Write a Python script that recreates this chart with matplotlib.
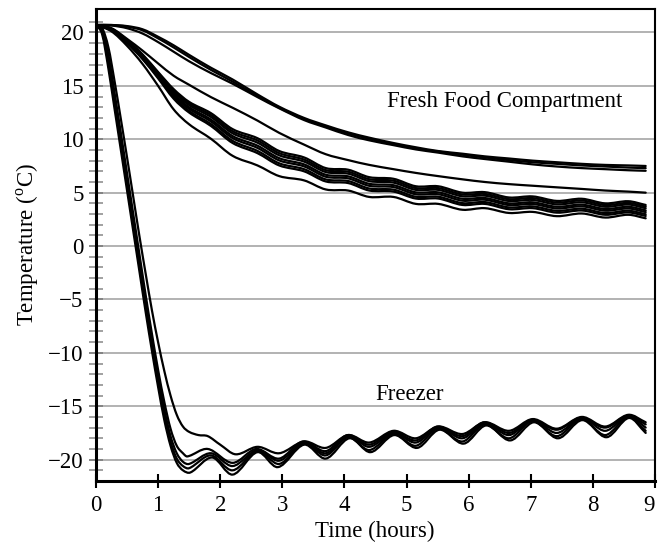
import numpy as np
import matplotlib
matplotlib.use("Agg")
import matplotlib.pyplot as plt
from matplotlib.path import Path
from matplotlib.patches import PathPatch

plt.rcParams['font.family'] = ['Liberation Serif', 'DejaVu Serif']
plt.rcParams['mathtext.fontset'] = 'custom'
plt.rcParams['mathtext.rm'] = 'Liberation Serif'

# ---------------- data ----------------
# Fresh food compartment: common time knots (hours)
t_fresh = [0, 0.25, 0.5, 0.75, 1.0, 1.25, 1.5, 1.85, 2.2, 2.6, 2.95, 3.35, 3.7,
           4.06, 4.4, 4.79, 5.15, 5.51, 5.9, 6.26, 6.65, 7.03, 7.42, 7.82, 8.2, 8.57, 8.85]

fresh_top1 = [20.7, 20.7, 20.6, 20.3, 19.6, 18.8, 17.9, 16.7, 15.6, 14.2, 13.05, 12.0, 11.3,
              10.65, 10.15, 9.65, 9.25, 8.9, 8.65, 8.4, 8.2, 8.0, 7.85, 7.7, 7.6, 7.55, 7.5]
fresh_top2 = [20.7, 20.7, 20.55, 20.2, 19.45, 18.6, 17.7, 16.5, 15.4, 14.05, 12.95, 11.9, 11.2,
              10.55, 10.05, 9.55, 9.15, 8.85, 8.55, 8.3, 8.05, 7.85, 7.7, 7.55, 7.45, 7.35, 7.3]
fresh_top3 = [20.7, 20.65, 20.4, 19.9, 19.1, 18.2, 17.3, 16.2, 15.2, 13.95, 12.9, 11.8, 11.1,
              10.4, 9.9, 9.45, 9.05, 8.75, 8.4, 8.15, 7.9, 7.65, 7.45, 7.3, 7.2, 7.1, 7.05]
fresh_mid = [20.7, 20.4, 19.4, 18.3, 17.1, 15.95, 15.1, 13.95, 12.95, 11.75, 10.6, 9.5, 8.6,
             8.05, 7.6, 7.2, 6.85, 6.55, 6.25, 6.0, 5.8, 5.65, 5.5, 5.35, 5.2, 5.1, 5.0]
fresh_b1 = [20.7, 20.35, 19.3, 17.95, 16.3, 14.7, 13.5, 12.45, 10.95, 10.1, 8.9, 8.3, 7.3,
            7.15, 6.45, 6.3, 5.6, 5.6, 5.0, 5.05, 4.55, 4.65, 4.23, 4.43, 4.0, 4.2, 3.85]
fresh_b2 = [20.7, 20.33, 19.25, 17.88, 16.21, 14.57, 13.35, 12.27, 10.75, 9.89, 8.7, 8.1, 7.11,
            6.96, 6.26, 6.12, 5.43, 5.43, 4.83, 4.88, 4.39, 4.49, 4.07, 4.27, 3.84, 4.04, 3.7]
fresh_b3 = [20.7, 20.31, 19.21, 17.82, 16.12, 14.43, 13.2, 12.09, 10.56, 9.68, 8.5, 7.91, 6.93,
            6.78, 6.08, 5.94, 5.26, 5.26, 4.66, 4.72, 4.22, 4.32, 3.9, 4.1, 3.68, 3.89, 3.54]
fresh_b4 = [20.7, 20.28, 19.15, 17.73, 16.0, 14.25, 13.0, 11.85, 10.3, 9.4, 8.23, 7.65, 6.68,
            6.53, 5.83, 5.7, 5.03, 5.03, 4.43, 4.5, 4.0, 4.1, 3.68, 3.88, 3.47, 3.68, 3.34]
fresh_b5 = [20.7, 20.25, 19.1, 17.66, 15.91, 14.12, 12.85, 11.67, 10.11, 9.19, 8.02, 7.46, 6.49,
            6.34, 5.64, 5.52, 4.85, 4.85, 4.25, 4.34, 3.84, 3.94, 3.52, 3.72, 3.31, 3.52, 3.18]
fresh_b6 = [20.7, 20.22, 19.05, 17.57, 15.79, 13.94, 12.65, 11.43, 9.85, 8.91, 7.75, 7.2, 6.24,
            6.09, 5.39, 5.28, 4.62, 4.62, 4.02, 4.12, 3.62, 3.72, 3.3, 3.5, 3.09, 3.31, 2.98]
fresh_b7 = [20.7, 20.2, 19.0, 17.5, 15.7, 13.8, 12.5, 11.25, 9.65, 8.7, 7.55, 7.0, 6.05,
            5.9, 5.2, 5.1, 4.45, 4.45, 3.85, 3.95, 3.45, 3.55, 3.13, 3.33, 2.93, 3.15, 2.82]
fresh_b8 = [20.7, 20.1, 18.75, 17.05, 15.0, 12.8, 11.4, 10.05, 8.45, 7.55, 6.55, 6.15, 5.3,
            5.2, 4.6, 4.6, 3.95, 3.95, 3.4, 3.55, 3.1, 3.2, 2.8, 3.05, 2.67, 2.93, 2.6]

# Freezer: pull-down knots (hours) shared by all freezer curves
t_pull = [0, 0.1, 0.2, 0.3, 0.4, 0.5, 0.6, 0.7, 0.8, 0.9, 1.0, 1.1, 1.2, 1.3, 1.4]
t_cyc = [1.5, 1.85, 2.2, 2.6, 2.95, 3.35, 3.7, 4.06, 4.4, 4.79, 5.15, 5.51, 5.9,
         6.26, 6.65, 7.03, 7.42, 7.82, 8.2, 8.57, 8.85]
t_cyc_d = [1.52, 1.87, 2.2, 2.6, 2.93, 3.35, 3.7, 4.08, 4.42, 4.8, 5.17, 5.53, 5.92,
           6.28, 6.67, 7.05, 7.44, 7.83, 8.22, 8.58, 8.85]
t_cyc_b = [1.47, 1.8, 2.2, 2.58, 2.95, 3.33, 3.7, 4.05, 4.4, 4.78, 5.15, 5.5, 5.9,
           6.25, 6.65, 7.02, 7.42, 7.8, 8.2, 8.56, 8.85]
t_cyc_f = [1.5, 1.65, 1.8, 2.0, 2.25, 2.6, 2.95, 3.35, 3.7, 4.06, 4.4, 4.79, 5.15,
           5.51, 5.9, 6.26, 6.65, 7.03, 7.42, 7.82, 8.2, 8.57, 8.85]

frz_d = [20.7, 19.8, 16.6, 12.8, 9.0, 5.2, 1.4, -2.4, -6.2, -9.8, -13.2, -16.3, -18.7, -20.3, -21.0,
         -21.2, -19.8, -21.4, -19.3, -20.7, -18.6, -19.9, -18.0, -19.3, -17.7, -18.9, -17.2, -18.5,
         -16.8, -18.2, -16.5, -18.0, -16.3, -17.9, -16.1, -17.5]
frz_c = [20.7, 20.0, 17.1, 13.3, 9.6, 5.7, 1.9, -1.9, -5.7, -9.3, -12.7, -15.8, -18.3, -19.9, -20.6,
         -20.8, -19.6, -21.0, -19.2, -20.4, -18.5, -19.6, -17.9, -19.1, -17.6, -18.7, -17.1, -18.3,
         -16.7, -18.0, -16.4, -17.8, -16.2, -17.7, -16.0, -17.3]
frz_e = [20.7, 20.1, 17.5, 13.8, 10.1, 6.2, 2.4, -1.4, -5.2, -8.8, -12.2, -15.3, -17.8, -19.4, -20.2,
         -20.4, -19.4, -20.6, -19.1, -20.1, -18.4, -19.4, -17.8, -18.8, -17.5, -18.4, -17.0, -18.0,
         -16.6, -17.7, -16.3, -17.5, -16.1, -17.3, -15.9, -17.0]
frz_b = [20.7, 20.2, 17.9, 14.3, 10.6, 6.8, 3.0, -0.8, -4.6, -8.2, -11.6, -14.6, -17.1, -18.7, -19.4,
         -19.7, -19.0, -20.3, -19.0, -19.9, -18.3, -19.2, -17.7, -18.6, -17.4, -18.2, -16.9, -17.8,
         -16.5, -17.5, -16.3, -17.2, -16.1, -17.0, -15.9, -16.7]
frz_f = [20.7, 20.4, 18.6, 15.4, 11.9, 8.3, 4.6, 0.9, -2.6, -6.0, -9.0, -11.7, -14.0, -15.8, -16.9,
         -17.4, -17.7, -17.8, -18.6, -19.5, -18.8, -19.4, -18.3, -18.9, -17.7, -18.4, -17.3, -18.0,
         -16.9, -17.6, -16.5, -17.3, -16.2, -17.1, -16.0, -16.9, -15.8, -16.5]

x_ticks = [0, 1, 2, 3, 4, 5, 6, 7, 8, 9]
y_ticks = [-20, -15, -10, -5, 0, 5, 10, 15, 20]

# ---------------- drawing ----------------
def smooth_path(x, y):
    x = np.asarray(x, float)
    y = np.asarray(y, float)
    n = len(x)
    m = np.empty(n)
    m[0] = (y[1] - y[0]) / (x[1] - x[0])
    m[-1] = (y[-1] - y[-2]) / (x[-1] - x[-2])
    m[1:-1] = (y[2:] - y[:-2]) / (x[2:] - x[:-2])
    verts = [(x[0], y[0])]
    codes = [Path.MOVETO]
    for i in range(n - 1):
        h = x[i + 1] - x[i]
        verts += [(x[i] + h / 3, y[i] + m[i] * h / 3),
                  (x[i + 1] - h / 3, y[i + 1] - m[i + 1] * h / 3),
                  (x[i + 1], y[i + 1])]
        codes += [Path.CURVE4] * 3
    return Path(verts, codes)


fig = plt.figure(figsize=(6.59, 5.44), dpi=100)
ax = fig.add_axes([96 / 659, 1 - 481 / 544, 559 / 659, 472 / 544])

series = [
    (t_fresh, fresh_top1), (t_fresh, fresh_top2), (t_fresh, fresh_top3), (t_fresh, fresh_mid),
    (t_fresh, fresh_b1), (t_fresh, fresh_b2), (t_fresh, fresh_b3), (t_fresh, fresh_b4),
    (t_fresh, fresh_b5), (t_fresh, fresh_b6), (t_fresh, fresh_b7), (t_fresh, fresh_b8),
    (t_pull + t_cyc_d, frz_d), (t_pull + t_cyc, frz_c), (t_pull + t_cyc, frz_e),
    (t_pull + t_cyc_b, frz_b), (t_pull + t_cyc_f, frz_f),
]
for tx, ty in series:
    patch = PathPatch(smooth_path(tx, ty), facecolor='none', edgecolor='black',
                      lw=1.6, capstyle='round', joinstyle='round', zorder=3)
    ax.add_patch(patch)

ax.set_xlim(0, 9)
ax.set_ylim(-22, 22.2)
ax.set_xticks(x_ticks)
ax.set_yticks(y_ticks)
ax.set_yticks(np.arange(-21, 22, 1), minor=True)
ax.yaxis.grid(True, which='major', color='#a6a6a6', lw=1.2, zorder=0)
ax.set_axisbelow(True)

ax.tick_params(axis='x', which='major', direction='inout', length=10, width=1.5,
               colors='black', labelsize=16.5, pad=5)
ax.tick_params(axis='y', which='major', direction='inout', length=10, width=1.3,
               color='#7f7f7f', labelcolor='black', labelsize=16.5, pad=4)
ax.tick_params(axis='y', which='minor', direction='inout', length=10, width=1.3,
               color='#9a9a9a')

# keep the last x tick label inside the figure
fig.canvas.draw()
ax.get_xticklabels()[-1].set_ha('right')

for side in ['left', 'bottom']:
    ax.spines[side].set_linewidth(2.2)
for side in ['top', 'right']:
    ax.spines[side].set_linewidth(1.5)

ax.set_xlabel('Time (hours)', fontsize=16.5)
ax.set_ylabel('Temperature ($^{\\rm o}$C)', fontsize=16.5)
ax.xaxis.set_label_coords(0.499, -0.085)
ax.yaxis.set_label_coords(-0.098, 0.5)

ax.text(4.69, 13.5, 'Fresh Food Compartment', fontsize=16.5, ha='left', va='center')
ax.text(4.49, -13.9, 'Freezer', fontsize=16.5, ha='left', va='center')

fig.savefig('out.png', dpi=100)
